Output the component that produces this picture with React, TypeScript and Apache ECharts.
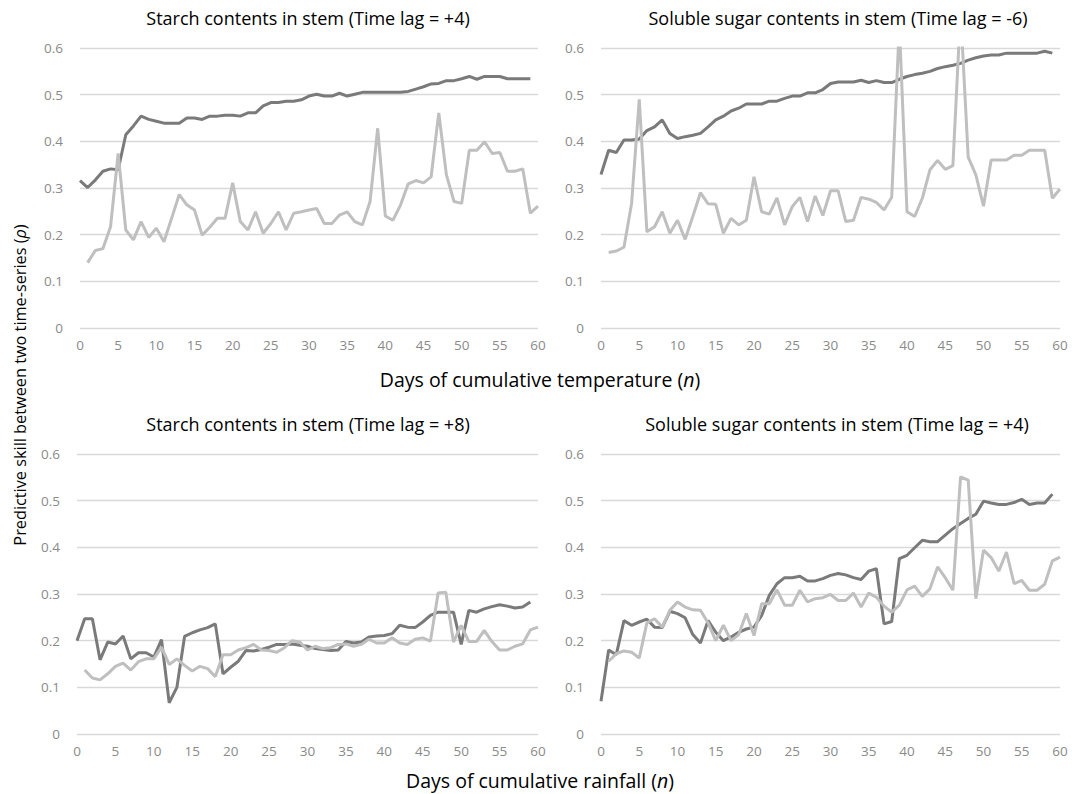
import React, { useEffect, useRef } from "react";
import * as echarts from "echarts";

// Days (n) axis ticks
const xTicks = [0, 5, 10, 15, 20, 25, 30, 35, 40, 45, 50, 55, 60];
const yTicks = [0, 0.1, 0.2, 0.3, 0.4, 0.5, 0.6];

const panelTitles = [
  "Starch contents in stem (Time lag = +4)",
  "Soluble sugar contents in stem (Time lag = -6)",
  "Starch contents in stem (Time lag = +8)",
  "Soluble sugar contents in stem (Time lag = +4)",
];

// dark series: n = 0..59 ; light series: n = 1..60
const starchTempDark = [
  0.316, 0.301, 0.317, 0.336, 0.341, 0.339, 0.414, 0.433, 0.454, 0.447,
  0.443, 0.439, 0.439, 0.439, 0.45, 0.45, 0.447, 0.454, 0.454, 0.456,
  0.456, 0.454, 0.461, 0.461, 0.476, 0.483, 0.483, 0.486, 0.486, 0.489,
  0.497, 0.501, 0.497, 0.497, 0.503, 0.497, 0.501, 0.505, 0.505, 0.505,
  0.505, 0.505, 0.505, 0.507, 0.512, 0.517, 0.523, 0.524, 0.53, 0.53,
  0.534, 0.539, 0.533, 0.539, 0.539, 0.539, 0.534, 0.534, 0.534, 0.534,
];
const starchTempLight = [
  0.14, 0.166, 0.17, 0.217, 0.374, 0.21, 0.189, 0.228, 0.194, 0.214,
  0.185, 0.235, 0.286, 0.264, 0.253, 0.199, 0.216, 0.235, 0.235, 0.311,
  0.228, 0.21, 0.249, 0.203, 0.224, 0.249, 0.21, 0.246, 0.249, 0.253,
  0.256, 0.224, 0.224, 0.242, 0.249, 0.228, 0.221, 0.271, 0.428, 0.24,
  0.231, 0.264, 0.309, 0.316, 0.311, 0.324, 0.461, 0.328, 0.271, 0.267,
  0.381, 0.381, 0.399, 0.374, 0.376, 0.336, 0.336, 0.341, 0.246, 0.261,
];
const sugarTempDark = [
  0.329, 0.381, 0.376, 0.403, 0.403, 0.405, 0.423, 0.431, 0.446, 0.417,
  0.406, 0.41, 0.413, 0.417, 0.431, 0.446, 0.454, 0.465, 0.471, 0.48,
  0.48, 0.48, 0.486, 0.486, 0.492, 0.497, 0.497, 0.504, 0.504, 0.511,
  0.524, 0.527, 0.527, 0.527, 0.531, 0.526, 0.53, 0.526, 0.526, 0.533,
  0.539, 0.543, 0.546, 0.55, 0.556, 0.56, 0.563, 0.567, 0.574, 0.579,
  0.583, 0.585, 0.585, 0.589, 0.589, 0.589, 0.589, 0.589, 0.593, 0.589,
];
const sugarTempLight = [
  0.162, 0.165, 0.173, 0.267, 0.49, 0.206, 0.217, 0.249, 0.203, 0.231,
  0.19, 0.239, 0.29, 0.266, 0.265, 0.203, 0.235, 0.221, 0.231, 0.324,
  0.249, 0.244, 0.279, 0.221, 0.26, 0.28, 0.228, 0.283, 0.241, 0.294,
  0.294, 0.228, 0.231, 0.28, 0.276, 0.269, 0.253, 0.28, 0.65, 0.249,
  0.239, 0.278, 0.339, 0.359, 0.34, 0.348, 0.68, 0.366, 0.328, 0.261,
  0.36, 0.36, 0.36, 0.37, 0.37, 0.381, 0.381, 0.381, 0.278, 0.298,
];
const starchRainDark = [
  0.2, 0.247, 0.247, 0.159, 0.197, 0.193, 0.21, 0.161, 0.174, 0.174,
  0.165, 0.202, 0.067, 0.1, 0.209, 0.217, 0.223, 0.228, 0.236, 0.129,
  0.143, 0.156, 0.179, 0.178, 0.181, 0.186, 0.192, 0.192, 0.193, 0.19,
  0.188, 0.183, 0.181, 0.179, 0.18, 0.198, 0.195, 0.197, 0.208, 0.21,
  0.211, 0.215, 0.233, 0.229, 0.228, 0.24, 0.254, 0.261, 0.261, 0.261,
  0.192, 0.265, 0.261, 0.268, 0.273, 0.277, 0.274, 0.27, 0.272, 0.283,
];
const starchRainLight = [
  0.137, 0.12, 0.116, 0.129, 0.145, 0.152, 0.137, 0.155, 0.161, 0.161,
  0.186, 0.149, 0.161, 0.147, 0.135, 0.145, 0.14, 0.123, 0.17, 0.17,
  0.18, 0.185, 0.192, 0.18, 0.179, 0.175, 0.185, 0.2, 0.197, 0.18,
  0.188, 0.183, 0.185, 0.192, 0.193, 0.188, 0.192, 0.203, 0.195, 0.195,
  0.206, 0.195, 0.192, 0.203, 0.206, 0.199, 0.302, 0.304, 0.197, 0.233,
  0.198, 0.198, 0.222, 0.198, 0.18, 0.18, 0.188, 0.193, 0.223, 0.229,
];
const sugarRainDark = [
  0.07, 0.18, 0.17, 0.243, 0.233, 0.24, 0.246, 0.229, 0.228, 0.263,
  0.258, 0.249, 0.213, 0.195, 0.243, 0.218, 0.2, 0.208, 0.218, 0.225,
  0.229, 0.254, 0.297, 0.322, 0.335, 0.335, 0.338, 0.328, 0.328, 0.333,
  0.34, 0.344, 0.341, 0.335, 0.331, 0.349, 0.354, 0.236, 0.241, 0.376,
  0.383, 0.399, 0.415, 0.412, 0.412, 0.426, 0.44, 0.451, 0.462, 0.471,
  0.499, 0.495, 0.492, 0.492, 0.496, 0.503, 0.492, 0.495, 0.495, 0.514,
];
const sugarRainLight = [
  0.156, 0.172, 0.178, 0.175, 0.163, 0.238, 0.247, 0.229, 0.265, 0.283,
  0.272, 0.266, 0.265, 0.238, 0.2, 0.233, 0.2, 0.213, 0.258, 0.211,
  0.279, 0.279, 0.309, 0.276, 0.276, 0.308, 0.283, 0.29, 0.292, 0.299,
  0.286, 0.286, 0.302, 0.272, 0.302, 0.293, 0.274, 0.261, 0.276, 0.309,
  0.317, 0.295, 0.311, 0.358, 0.335, 0.308, 0.551, 0.544, 0.29, 0.394,
  0.378, 0.349, 0.39, 0.322, 0.329, 0.308, 0.308, 0.321, 0.371, 0.379,
];

const FONT = "'Open Sans', sans-serif";
const DARK = "#7a7a7a";
const LIGHT = "#bfbfbf";

const panels = [
  { dark: starchTempDark, light: starchTempLight, grid: { left: 80, top: 48, width: 458, height: 280 }, tx: 308, ty: 18 },
  { dark: sugarTempDark, light: sugarTempLight, grid: { left: 601, top: 48, width: 459, height: 280 }, tx: 838, ty: 18 },
  { dark: starchRainDark, light: starchRainLight, grid: { left: 77, top: 454, width: 461, height: 280 }, tx: 308, ty: 424 },
  { dark: sugarRainDark, light: sugarRainLight, grid: { left: 601, top: 454, width: 459, height: 280 }, tx: 837, ty: 424 },
];

export default function App() {
  const ref = useRef<HTMLDivElement>(null);
  useEffect(() => {
    if (!ref.current) return;
    const chart = echarts.init(ref.current, null, { renderer: "svg" });
    const grids: any[] = [];
    const xAxes: any[] = [];
    const yAxes: any[] = [];
    const series: any[] = [];
    const graphics: any[] = [];
    panels.forEach((p, i) => {
      grids.push({ ...p.grid, containLabel: false });
      xAxes.push({
        type: "value",
        gridIndex: i,
        min: xTicks[0],
        max: xTicks[xTicks.length - 1],
        interval: xTicks[1] - xTicks[0],
        axisLine: { show: false },
        axisTick: { show: false },
        splitLine: { show: false },
        axisLabel: { color: "#8a8a8a", fontSize: 13.5, fontFamily: FONT, margin: 10 },
      });
      yAxes.push({
        type: "value",
        gridIndex: i,
        min: yTicks[0],
        max: yTicks[yTicks.length - 1],
        interval: 0.1,
        axisLine: { show: false },
        axisTick: { show: false },
        splitLine: { lineStyle: { color: "#d9d9d9", width: 1.3 } },
        axisLabel: {
          color: "#8a8a8a",
          fontSize: 13.5,
          fontFamily: FONT,
          margin: 17,
          formatter: (v: number) => (v === 0 ? "0" : v.toFixed(1)),
        },
      });
      series.push({
        type: "line",
        xAxisIndex: i,
        yAxisIndex: i,
        data: p.dark.map((v, k) => [k, v]),
        showSymbol: false,
        symbol: "none",
        clip: true,
        lineStyle: { color: DARK, width: 3 },
      });
      series.push({
        type: "line",
        xAxisIndex: i,
        yAxisIndex: i,
        data: p.light.map((v, k) => [k + 1, v]),
        showSymbol: false,
        symbol: "none",
        clip: true,
        lineStyle: { color: LIGHT, width: 3 },
      });
      graphics.push({
        type: "text",
        x: p.tx,
        y: p.ty,
        style: {
          text: panelTitles[i],
          fill: "#000",
          fontSize: 18,
          fontFamily: FONT,
          textAlign: "center",
          textVerticalAlign: "middle",
        },
      });
    });
    const nameSize = 19.5;
    graphics.push({
      type: "text",
      x: 540,
      y: 379,
      style: {
        text: "Days of cumulative temperature ({i|n})",
        rich: { i: { fontStyle: "italic", fontSize: nameSize, fontFamily: FONT, fill: "#000" } },
        fill: "#000",
        fontSize: nameSize,
        fontFamily: FONT,
        textAlign: "center",
        textVerticalAlign: "middle",
      },
    });
    graphics.push({
      type: "text",
      x: 540,
      y: 780,
      style: {
        text: "Days of cumulative rainfall ({i|n})",
        rich: { i: { fontStyle: "italic", fontSize: nameSize, fontFamily: FONT, fill: "#000" } },
        fill: "#000",
        fontSize: nameSize,
        fontFamily: FONT,
        textAlign: "center",
        textVerticalAlign: "middle",
      },
    });
    graphics.push({
      type: "text",
      x: 20,
      y: 385,
      rotation: Math.PI / 2,
      style: {
        text: "Predictive skill between two time-series ({i|ρ})",
        rich: { i: { fontStyle: "italic", fontSize: 16.3, fontFamily: FONT, fill: "#000" } },
        fill: "#000",
        fontSize: 16.3,
        fontFamily: FONT,
        textAlign: "center",
        textVerticalAlign: "middle",
      },
    });
    chart.setOption({
      animation: false,
      backgroundColor: "#fff",
      grid: grids,
      xAxis: xAxes,
      yAxis: yAxes,
      series,
      graphic: graphics,
    });
    return () => chart.dispose();
  }, []);
  return (
    <div
      ref={ref}
      style={{ position: "fixed", left: 0, top: 0, width: 1072, height: 794, background: "#fff" }}
    />
  );
}
